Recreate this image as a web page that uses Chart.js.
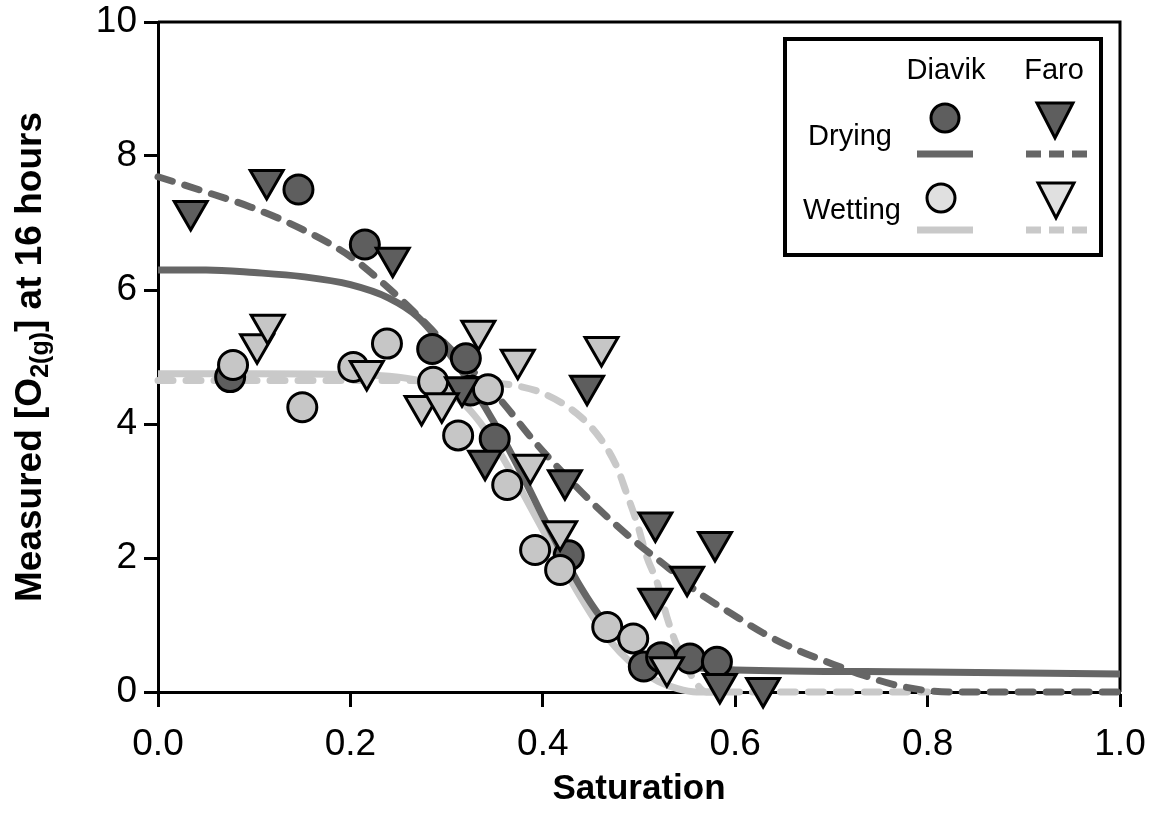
<!DOCTYPE html>
<html>
<head>
<meta charset="utf-8">
<script src="https://cdn.jsdelivr.net/npm/chart.js@4"></script>
<style>
html, body { margin: 0; padding: 0; background: #fff; }
</style>
</head>
<body>
<canvas id="o2Chart" width="1151" height="832"></canvas>
<script>
// measured points, [saturation, O2]
const diavikDrying = [[0.075, 4.70], [0.146, 7.50], [0.215, 6.68], [0.285, 5.12], [0.320, 4.98],
    [0.325, 4.50], [0.350, 3.78], [0.427, 2.04], [0.505, 0.38], [0.523, 0.52], [0.553, 0.50], [0.581, 0.45]];
const diavikWetting = [[0.078, 4.88], [0.150, 4.25], [0.203, 4.85], [0.238, 5.20], [0.286, 4.63],
    [0.312, 3.83], [0.343, 4.52], [0.363, 3.09], [0.392, 2.12], [0.418, 1.82], [0.467, 0.97], [0.494, 0.80]];
const faroDrying = [[0.034, 7.18], [0.113, 7.64], [0.244, 6.48], [0.316, 4.55], [0.340, 3.45],
    [0.423, 3.16], [0.446, 4.57], [0.517, 2.53], [0.579, 2.24], [0.550, 1.72], [0.517, 1.39],
    [0.584, 0.12], [0.629, 0.06]];
const faroWetting = [[0.103, 5.19], [0.114, 5.48], [0.217, 4.79], [0.274, 4.27], [0.295, 4.31],
    [0.333, 5.39], [0.374, 4.96], [0.461, 5.15], [0.387, 3.39], [0.418, 2.40], [0.529, 0.37]];

// fitted curves
const diavikDryingFit = [[0, 6.30], [0.05, 6.30], [0.10, 6.26], [0.15, 6.20], [0.20, 6.08], [0.24, 5.88],
    [0.27, 5.60], [0.30, 5.10], [0.32, 4.70], [0.34, 4.25], [0.36, 3.75], [0.38, 3.20], [0.40, 2.62],
    [0.42, 2.07], [0.44, 1.55], [0.46, 1.12], [0.48, 0.80], [0.50, 0.58], [0.53, 0.43], [0.56, 0.36],
    [0.60, 0.33], [0.80, 0.30], [1.00, 0.27]];
const diavikWettingFit = [[0, 4.75], [0.10, 4.75], [0.20, 4.74], [0.25, 4.70], [0.28, 4.62], [0.30, 4.50],
    [0.32, 4.27], [0.34, 3.92], [0.36, 3.46], [0.38, 2.95], [0.40, 2.42], [0.42, 1.90], [0.44, 1.40],
    [0.46, 0.95], [0.48, 0.60], [0.50, 0.34], [0.52, 0.16], [0.54, 0.05], [0.56, 0.00], [0.58, 0.00]];
const faroDryingFit = [[0, 7.69], [0.044, 7.49], [0.096, 7.24], [0.148, 6.92], [0.20, 6.50], [0.234, 6.10],
    [0.27, 5.62], [0.30, 5.18], [0.33, 4.75], [0.356, 4.36], [0.39, 3.76], [0.425, 3.21], [0.459, 2.72],
    [0.494, 2.27], [0.529, 1.87], [0.56, 1.50], [0.595, 1.18], [0.629, 0.88], [0.664, 0.63], [0.699, 0.43],
    [0.733, 0.25], [0.768, 0.10], [0.80, 0.02], [0.83, 0.00], [1.00, 0.00]];
const faroWettingFit = [[0, 4.65], [0.10, 4.65], [0.20, 4.65], [0.30, 4.64], [0.35, 4.61], [0.369, 4.58],
    [0.40, 4.46], [0.435, 4.16], [0.459, 3.80], [0.477, 3.36], [0.487, 2.97], [0.498, 2.52], [0.508, 2.02],
    [0.519, 1.63], [0.529, 1.12], [0.537, 0.78], [0.55, 0.37], [0.56, 0.12], [0.57, 0.00], [0.80, 0.00]];

const xTicks = [0, 0.2, 0.4, 0.6, 0.8, 1.0];
const yTicks = [0, 2, 4, 6, 8, 10];

const darkFill = '#5e5e5e';
const lightFill = '#c6c6c6';
const darkLine = '#666666';
const lightLine = '#c9c9c9';

const toXY = arr => arr.map(p => ({x: p[0], y: p[1]}));

Chart.defaults.font.family = '"Liberation Sans", Arial, sans-serif';
Chart.defaults.color = '#000';

function pointSet(label, data, fill, style) {
    return {
        label: label,
        data: toXY(data),
        showLine: false,
        pointStyle: style,
        pointRotation: style === 'triangle' ? 180 : 0,
        pointRadius: style === 'triangle' ? 19 : 14.5,
        pointBackgroundColor: fill,
        pointBorderColor: '#000',
        pointBorderWidth: 3,
        clip: false,
    };
}

function fitSet(label, data, color, dashed) {
    return {
        label: label,
        data: toXY(data),
        showLine: true,
        pointRadius: 0,
        borderColor: color,
        borderWidth: 7,
        borderDash: dashed ? [15, 13] : [],
        borderCapStyle: dashed ? 'round' : 'butt',
        cubicInterpolationMode: 'monotone',
        clip: false,
    };
}

// no extra room for half tick labels, the plot box is fixed
const noPad = s => { s.paddingLeft = 0; s.paddingRight = 0; s.paddingTop = 0; s.paddingBottom = 0; };

// top/right frame, titles and the 2x2 legend
const decorations = {
    id: 'decorations',
    beforeDatasetsDraw(chart) {
        const {ctx, chartArea: a} = chart;
        ctx.save();
        ctx.strokeStyle = '#000';
        ctx.lineWidth = 3;
        ctx.beginPath();
        ctx.moveTo(a.left, a.top);
        ctx.lineTo(a.right, a.top);
        ctx.lineTo(a.right, a.bottom);
        ctx.stroke();
        ctx.restore();
    },
    afterDraw(chart) {
        const {ctx, chartArea: a} = chart;
        ctx.save();
        ctx.fillStyle = '#000';

        // x title
        ctx.font = 'bold 35px "Liberation Sans", Arial';
        ctx.textAlign = 'center';
        ctx.textBaseline = 'middle';
        ctx.fillText('Saturation', (a.left + a.right) / 2, 789);

        // y title with subscript
        ctx.save();
        ctx.translate(31, (a.top + a.bottom) / 2);
        ctx.rotate(-Math.PI / 2);
        const big = 'bold 37px "Liberation Sans", Arial';
        const small = 'bold 25px "Liberation Sans", Arial';
        const parts = [['Measured [O', big, 0], ['2(g)', small, 10], ['] at 16 hours', big, 0]];
        let total = 0;
        parts.forEach(p => { ctx.font = p[1]; total += ctx.measureText(p[0]).width; });
        let cx = -total / 2;
        ctx.textAlign = 'left';
        ctx.textBaseline = 'middle';
        parts.forEach(p => {
            ctx.font = p[1];
            ctx.fillText(p[0], cx, p[2]);
            cx += ctx.measureText(p[0]).width;
        });
        ctx.restore();

        // legend
        ctx.lineWidth = 4;
        ctx.strokeStyle = '#000';
        ctx.strokeRect(785, 39, 316, 216);
        ctx.font = '29px "Liberation Sans", Arial';
        ctx.textAlign = 'center';
        ctx.textBaseline = 'alphabetic';
        ctx.fillText('Diavik', 946, 79);
        ctx.fillText('Faro', 1054, 79);
        ctx.fillText('Drying', 850, 145);
        ctx.fillText('Wetting', 852, 219);

        const circle = (x, y, fill) => {
            ctx.beginPath();
            ctx.arc(x, y, 14, 0, Math.PI * 2);
            ctx.fillStyle = fill; ctx.fill();
            ctx.lineWidth = 3; ctx.strokeStyle = '#000'; ctx.stroke();
        };
        const tri = (x, top, fill) => {
            ctx.beginPath();
            ctx.moveTo(x - 18, top);
            ctx.lineTo(x + 18, top);
            ctx.lineTo(x, top + 35);
            ctx.closePath();
            ctx.fillStyle = fill; ctx.fill();
            ctx.lineWidth = 3; ctx.lineJoin = 'miter'; ctx.strokeStyle = '#000'; ctx.stroke();
        };
        const seg = (x0, x1, y, color, dash) => {
            ctx.beginPath();
            ctx.setLineDash(dash);
            ctx.moveTo(x0, y); ctx.lineTo(x1, y);
            ctx.lineWidth = 7; ctx.strokeStyle = color; ctx.lineCap = 'butt'; ctx.stroke();
            ctx.setLineDash([]);
        };
        circle(945, 118, darkFill);
        seg(917, 973, 154, darkLine, []);
        tri(1055, 103, darkFill);
        seg(1026, 1087, 154, darkLine, [15, 8]);
        circle(941, 198, '#e0e0e0');
        seg(917, 973, 230, lightLine, []);
        tri(1056, 183, '#e0e0e0');
        seg(1026, 1087, 230, lightLine, [15, 8]);
        ctx.restore();
    }
};

new Chart(document.getElementById('o2Chart'), {
    type: 'scatter',
    data: {
        datasets: [
            pointSet('Faro wetting', faroWetting, lightFill, 'triangle'),
            pointSet('Faro drying', faroDrying, darkFill, 'triangle'),
            pointSet('Diavik wetting', diavikWetting, lightFill, 'circle'),
            pointSet('Diavik drying', diavikDrying, darkFill, 'circle'),
            fitSet('Faro drying fit', faroDryingFit, darkLine, true),
            fitSet('Diavik drying fit', diavikDryingFit, darkLine, false),
            fitSet('Faro wetting fit', faroWettingFit, lightLine, true),
            fitSet('Diavik wetting fit', diavikWettingFit, lightLine, false),
        ]
    },
    options: {
        responsive: false,
        animation: false,
        layout: { padding: { left: 0, top: 22, right: 31, bottom: 0 } },
        plugins: { legend: { display: false }, tooltip: { enabled: false } },
        scales: {
            x: {
                type: 'linear', min: 0, max: 1,
                afterBuildTicks: s => { s.ticks = xTicks.map(v => ({value: v})); },
                ticks: { font: { size: 37 }, padding: 16, maxRotation: 0, autoSkip: false,
                    callback: v => v.toFixed(1) },
                grid: { drawOnChartArea: false, tickLength: 15, tickWidth: 3, tickColor: '#000' },
                border: { color: '#000', width: 3 },
                afterFit: s => { s.height = 140; noPad(s); }
            },
            y: {
                type: 'linear', min: 0, max: 10,
                afterBuildTicks: s => { s.ticks = yTicks.map(v => ({value: v})); },
                ticks: { font: { size: 37 }, padding: 7, callback: v => String(v) },
                grid: { drawOnChartArea: false, tickLength: 14, tickWidth: 3, tickColor: '#000' },
                border: { color: '#000', width: 3 },
                afterFit: s => { s.width = 158; noPad(s); }
            }
        }
    },
    plugins: [decorations]
});
</script>
</body>
</html>
